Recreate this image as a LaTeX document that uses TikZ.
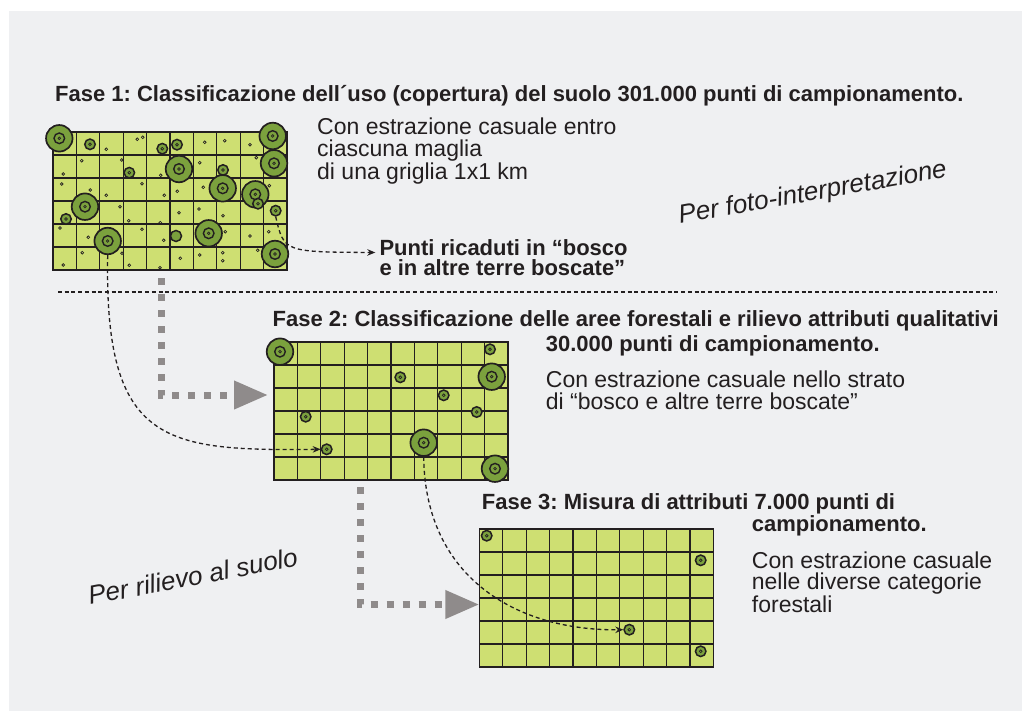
\documentclass[tikz,border=0pt]{standalone}
\usepackage{fontspec}
\setmainfont{Liberation Sans}
\usetikzlibrary{positioning,arrows.meta,calc}
\definecolor{panelgray}{HTML}{EFF0F2}
\definecolor{cellgreen}{HTML}{CEDF72}
\definecolor{plotgreen}{HTML}{7BA13D}
\definecolor{flowgray}{HTML}{8F8B8B}
\definecolor{inkblack}{HTML}{231F20}
\frenchspacing

\begin{document}
\begin{tikzpicture}[
    x=1pt, y=-1pt,
    >=Stealth,
    every node/.style={inner sep=0pt, text=inkblack},
    titletext/.style={font=\fontsize{22pt}{20pt}\selectfont\bfseries, anchor=base west, align=left},
    desctext/.style={font=\fontsize{23pt}{22pt}\selectfont, anchor=base west, align=left},
    slanttext/.style={font=\fontsize{26pt}{26pt}\selectfont\itshape, anchor=base west},
    gridbox/.style={
        rectangle, draw=inkblack, line width=1.4pt, fill=cellgreen, outer sep=0pt,
        minimum width=234pt, minimum height=138pt, anchor=north west
    },
    gridline/.style={draw=inkblack, line width=1.2pt},
    bigplot/.style={
        circle, draw=inkblack, line width=1.7pt, fill=plotgreen, minimum size=26.5pt,
        path picture={
            \draw[inkblack, line width=1.4pt] (path picture bounding box.center) circle[radius=5.3pt];
            \draw[inkblack, line width=0.7pt] (path picture bounding box.center) circle[radius=1.3pt];
        }
    },
    smallplot/.style={
        circle, draw=inkblack, line width=1.5pt, fill=plotgreen, minimum size=10.5pt,
        path picture={\draw[inkblack, line width=0.7pt] (path picture bounding box.center) circle[radius=1.4pt];}
    },
    blankplot/.style={circle, draw=inkblack, line width=1.5pt, fill=plotgreen, minimum size=11pt},
    dotmark/.style={draw=inkblack, line width=0.7pt},
    sampleflow/.style={-{Stealth[length=8pt, width=6.5pt]}, inkblack, line width=1.3pt, dash pattern=on 4pt off 3pt},
    grayflow/.style={-{Triangle[length=34pt, width=27pt]}, flowgray, line width=7pt, dash pattern=on 7pt off 9pt},
    sepline/.style={inkblack, line width=1.5pt, dash pattern=on 4pt off 2.7pt}
]

\useasboundingbox (0,0) rectangle (1022,711);
\fill[white] (0,0) rectangle (1022,711);
\fill[panelgray] (9,11) rectangle (1022,711);

% the three sampling grids
\node[gridbox] (g1) at (53,132) {};
\node[gridbox] (g2) at (274,342) {};
\node[gridbox] (g3) at (479.3,529) {};

\foreach \g in {g1,g2,g3}{
    \foreach \i in {1,...,9}
        \draw[gridline] ($(\g.north west)!\i/10!(\g.north east)$) -- ($(\g.south west)!\i/10!(\g.south east)$);
    \foreach \j in {1,...,5}
        \draw[gridline] ($(\g.north west)!\j/6!(\g.south west)$) -- ($(\g.north east)!\j/6!(\g.south east)$);
}

% random points of phase 1
\foreach \x/\y in {63.3/174, 61.7/184, 60/228, 63.3/265, 81.7/160.7, 90.3/190, 88.3/237.3, 82.3/252.7,
    106.3/149.3, 106.3/195.3, 120/206.7, 121.7/160, 128.7/220.7, 122/253.3, 129.3/265.3,
    137.3/139.3, 142.7/137.3, 142/183.7, 142/229.3, 160.7/175.3, 164.3/195.3, 160.3/222.7,
    163.7/240.3, 160/267.7, 177.3/191.3, 179/212.7, 180.3/258.3, 199.7/162.7, 203.3/187.3,
    199/209, 199.7/255, 204.7/142.3, 223/215.7, 224.7/140.7, 225.3/231.7, 222.7/252.7,
    222.7/260.7, 250/144.7, 256.3/157.7, 250/236, 269.3/185.7, 268.7/231.7, 257.7/250.3}
    \draw[dotmark] (\x,\y) circle[radius=1.4pt];

% forest plots
\foreach \name/\x/\y/\kind in {a1/59.3/138.3/bigplot, a2/90/144.3/smallplot, a3/162.3/148.7/smallplot,
    a4/177/144.7/smallplot, a5/179/169/bigplot, a6/272.7/136/bigplot, a7/274/163.3/bigplot,
    a8/129.3/172.7/smallplot, a9/223/170/smallplot, a10/222.7/188.3/bigplot, a11/255.3/194.3/bigplot,
    a11b/258/203.7/smallplot, a12/275.7/210.7/smallplot, a13/85/206.7/bigplot, a14/66/219/smallplot,
    a15/107.7/241/bigplot, a16/176/236/blankplot, a17/208.7/233.3/bigplot, a18/275/254/bigplot,
    b1/280/351.7/bigplot, b2/490/349.3/smallplot, b3/491.7/376.7/bigplot, b4/400.3/377.3/smallplot,
    b5/443.7/395.3/smallplot, b6/476.7/412/smallplot, b7/305.7/416.7/smallplot, b8/423.7/442.7/bigplot,
    b9/326.7/449.3/smallplot, b10/495/468.7/bigplot,
    c1/486.7/535.7/smallplot, c2/700.7/560.3/smallplot, c3/629.3/629.7/smallplot, c4/700.7/651.3/smallplot}
    \node[\kind] (\name) at (\x,\y) {};

% texts (base anchor of a multi-line node = last line)
\node[titletext] (fase1) at (55,101.5) {Fase 1: Classificazione dell´uso (copertura) del suolo 301.000 punti di campionamento.};
\node[desctext, font=\fontsize{23pt}{22.5pt}\selectfont] (desc1) at (317,179.3) {Con estrazione casuale entro\\ciascuna maglia\\di una griglia 1x1 km};
\node[titletext] (punti) at (379.3,275.5) {Punti ricaduti in “bosco\\e in altre terre boscate”};
\node[slanttext, rotate=10] (foto) at (680,224) {Per foto-interpretazione};

\node[titletext] (fase2) at (272.4,326) {Fase 2: Classificazione delle aree forestali e rilievo attributi qualitativi};
\node[titletext] (fase2n) at (545.7,351.5) {30.000 punti di campionamento.};
\node[desctext] (desc2) at (545.7,409) {Con estrazione casuale nello strato\\di “bosco e altre terre boscate”};

\node[titletext] (fase3) at (481.7,509.3) {Fase 3: Misura di attributi 7.000 punti di};
\node[titletext] (fase3n) at (751.7,531.7) {campionamento.};
\node[desctext, font=\fontsize{23pt}{21pt}\selectfont] (desc3) at (751.7,612) {Con estrazione casuale\\nelle diverse categorie\\forestali};
\node[slanttext, rotate=10.7] (suolo) at (90,605) {Per rilievo al suolo};

% separator
\draw[sepline] (58,292) -- (997,292);

% flows
\draw[grayflow] ([xshift=108pt, yshift=-8pt]g1.south west) |- ([xshift=-6pt, yshift=16pt]g2.west);
\draw[grayflow] ([xshift=86pt, yshift=-7pt]g2.south west) |- ([yshift=-6.5pt]g3.west);

\draw[sampleflow] (a12.south) .. controls (284,252) .. ([xshift=-4pt, yshift=23pt]punti.base west);
\draw[sampleflow] (a15.south) .. controls (104,445) and (165,451) .. (b9.west);
\draw[sampleflow] (b8.south) .. controls (425,580) and (520,631) .. (c3.west);

\end{tikzpicture}
\end{document}
